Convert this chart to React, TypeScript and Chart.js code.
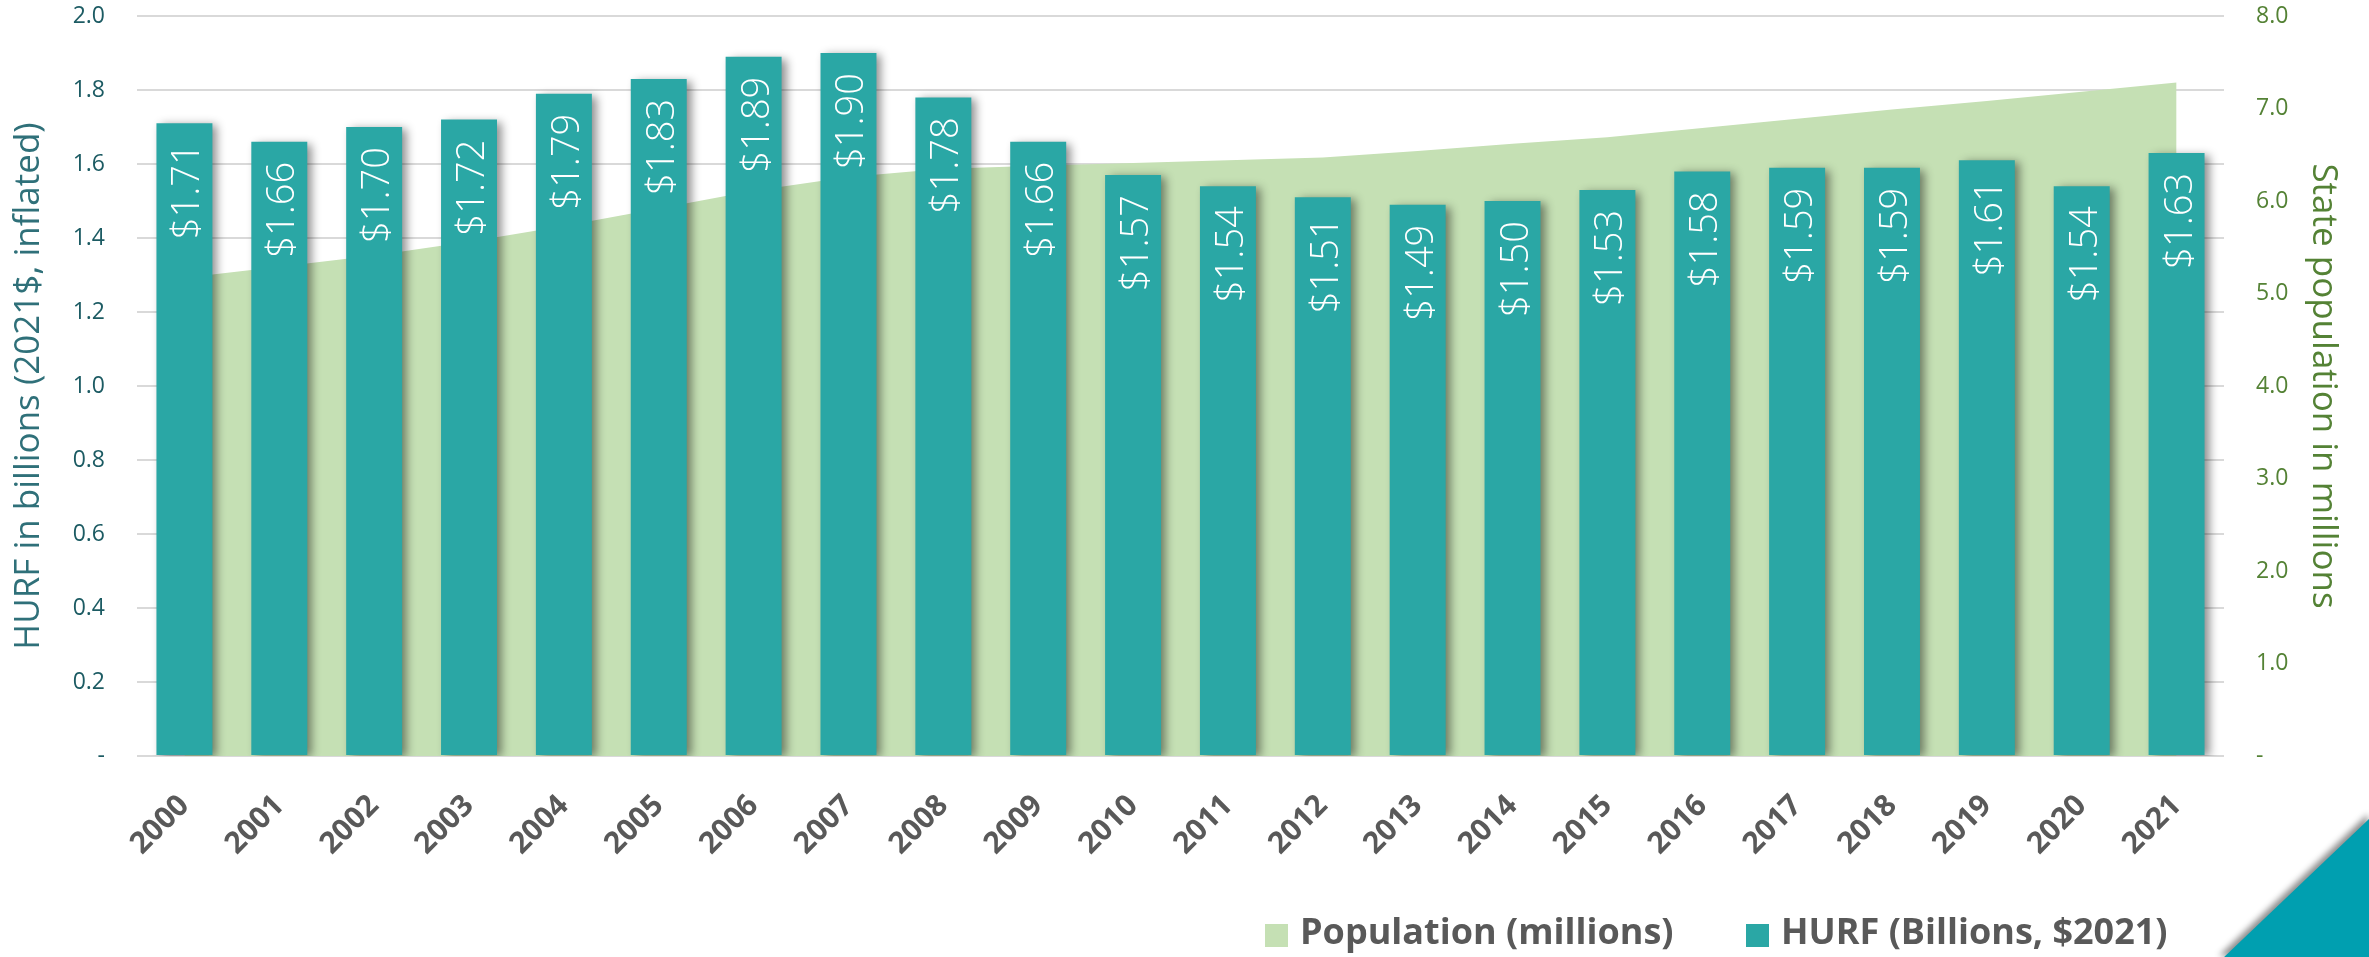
import { useEffect, useRef } from 'react';
import { Chart, registerables } from 'chart.js';

Chart.register(...registerables);

// ---- data ----
const years = ['2000', '2001', '2002', '2003', '2004', '2005', '2006', '2007', '2008', '2009', '2010',
  '2011', '2012', '2013', '2014', '2015', '2016', '2017', '2018', '2019', '2020', '2021'];
const hurfBillions = [1.71, 1.66, 1.70, 1.72, 1.79, 1.83, 1.89, 1.90, 1.78, 1.66, 1.57,
  1.54, 1.51, 1.49, 1.50, 1.53, 1.58, 1.59, 1.59, 1.61, 1.54, 1.63];
const populationMillions = [5.17, 5.29, 5.41, 5.56, 5.73, 5.92, 6.11, 6.26, 6.35, 6.38, 6.41,
  6.44, 6.47, 6.54, 6.62, 6.69, 6.79, 6.89, 6.99, 7.08, 7.18, 7.28];
const seriesLabels = ['Population (millions)', 'HURF (Billions, $2021)'];
const leftAxisTitle = 'HURF in billions (2021$, inflated)';
const rightAxisTitle = 'State population in millions';

// ---- styles ----
const W = 2369;
const H = 957;
const FONT = "'Open Sans', 'Noto Sans', sans-serif";
const BAR_COLOR = '#2AA7A5';
const AREA_COLOR = '#C5E0B4';
const LEFT_TICK = '#1C5B63';
const LEFT_TITLE = '#2F7079';
const RIGHT_GREEN = '#548235';
const GREY_TEXT = '#595959';

const barShadow = {
  id: 'barShadow',
  beforeDatasetDraw(chart: any, args: any) {
    if (args.index !== 1) return;
    const ctx = chart.ctx;
    ctx.save();
    ctx.shadowColor = 'rgba(0,0,0,0.45)';
    ctx.shadowBlur = 9;
    ctx.shadowOffsetX = 5;
    ctx.shadowOffsetY = 2;
  },
  afterDatasetDraw(chart: any, args: any) {
    if (args.index !== 1) return;
    chart.ctx.restore();
  },
};

const barLabels = {
  id: 'barLabels',
  afterDatasetsDraw(chart: any) {
    const meta = chart.getDatasetMeta(1);
    const data = chart.data.datasets[1].data as number[];
    const ctx = chart.ctx;
    ctx.save();
    ctx.fillStyle = '#FFFFFF';
    ctx.font = `300 38px ${FONT}`;
    ctx.textAlign = 'right';
    ctx.textBaseline = 'alphabetic';
    meta.data.forEach((el: any, i: number) => {
      ctx.save();
      ctx.translate(el.x, el.y + 20);
      ctx.rotate(-Math.PI / 2);
      ctx.fillText('$' + data[i].toFixed(2), 0, 15);
      ctx.restore();
    });
    ctx.restore();
  },
};

const legendAndCorner = {
  id: 'legendAndCorner',
  afterDraw(chart: any) {
    const ctx = chart.ctx;
    ctx.save();
    // legend
    const items = [
      { x: 1265, color: AREA_COLOR, text: chart.data.datasets[0].label },
      { x: 1746, color: BAR_COLOR, text: chart.data.datasets[1].label },
    ];
    ctx.font = `bold 36px ${FONT}`;
    ctx.textBaseline = 'middle';
    ctx.textAlign = 'left';
    items.forEach((it) => {
      ctx.fillStyle = it.color;
      ctx.fillRect(it.x, 924, 23, 23);
      ctx.fillStyle = GREY_TEXT;
      ctx.fillText(it.text, it.x + 35, 934);
    });
    // corner triangle
    ctx.shadowColor = 'rgba(0,0,0,0.45)';
    ctx.shadowBlur = 6;
    ctx.shadowOffsetX = -3;
    ctx.shadowOffsetY = -3;
    ctx.fillStyle = '#009FB0';
    ctx.beginPath();
    ctx.moveTo(2222, H + 2);
    ctx.lineTo(W + 2, 817);
    ctx.lineTo(W + 2, H + 2);
    ctx.closePath();
    ctx.fill();
    ctx.restore();
  },
};

const zeroPad = (scale: any) => {
  scale.paddingTop = 0;
  scale.paddingBottom = 0;
  scale.paddingLeft = 0;
  scale.paddingRight = 0;
};

export default function App() {
  const ref = useRef<HTMLCanvasElement>(null);
  useEffect(() => {
    const chart = new Chart(ref.current as HTMLCanvasElement, {
      type: 'bar',
      data: {
        labels: years,
        datasets: [
          {
            type: 'line',
            label: seriesLabels[0],
            data: populationMillions,
            yAxisID: 'y1',
            fill: 'origin',
            backgroundColor: AREA_COLOR,
            borderWidth: 0,
            pointRadius: 0,
            tension: 0,
            order: 2,
          } as any,
          {
            type: 'bar',
            label: seriesLabels[1],
            data: hurfBillions,
            yAxisID: 'y',
            backgroundColor: BAR_COLOR,
            borderWidth: 0,
            barPercentage: 0.59,
            categoryPercentage: 1,
            order: 1,
          },
        ],
      },
      options: {
        responsive: false,
        animation: false,
        devicePixelRatio: 1,
        layout: { padding: { top: 16, left: 0, right: 0, bottom: 0 } },
        plugins: {
          legend: { display: false },
          tooltip: { enabled: false },
        },
        scales: {
          x: {
            type: 'category',
            offset: true,
            grid: { display: false, drawTicks: false },
            border: { display: false },
            ticks: {
              autoSkip: false,
              minRotation: 45,
              maxRotation: 45,
              padding: 32,
              color: GREY_TEXT,
              font: { family: FONT, size: 30, weight: 'bold' },
            },
            afterFit(scale: any) {
              scale.height = 201;
              zeroPad(scale);
            },
          },
          y: {
            type: 'linear',
            position: 'left',
            min: 0,
            max: 2,
            ticks: {
              stepSize: 0.2,
              padding: 32,
              color: LEFT_TICK,
              font: { family: FONT, size: 23 },
              callback: (v: any) => (Number(v) === 0 ? '-' : Number(v).toFixed(1)),
            },
            grid: { color: '#D9D9D9', lineWidth: 2, drawTicks: false },
            border: { display: false },
            title: {
              display: true,
              text: leftAxisTitle,
              color: LEFT_TITLE,
              font: { family: FONT, size: 35, lineHeight: 1.2 },
              padding: { top: 8, bottom: 0 },
            },
            afterFit(scale: any) {
              scale.width = 137;
              zeroPad(scale);
            },
          },
          y1: {
            type: 'linear',
            position: 'right',
            min: 0,
            max: 8,
            ticks: {
              stepSize: 1,
              padding: 32,
              color: RIGHT_GREEN,
              font: { family: FONT, size: 23 },
              callback: (v: any) => (Number(v) === 0 ? '-' : Number(v).toFixed(1)),
            },
            grid: { display: false, drawTicks: false },
            border: { display: false },
            title: {
              display: true,
              text: rightAxisTitle,
              color: RIGHT_GREEN,
              font: { family: FONT, size: 35, lineHeight: 1.2 },
              padding: { top: 25, bottom: 0 },
            },
            afterFit(scale: any) {
              scale.width = 145;
              zeroPad(scale);
            },
          },
        },
      },
      plugins: [barShadow, barLabels, legendAndCorner],
    });
    return () => chart.destroy();
  }, []);
  return (
    <div style={{ position: 'absolute', left: 0, top: 0, width: W, height: H, background: '#fff' }}>
      <canvas ref={ref} width={W} height={H} style={{ width: W, height: H, display: 'block' }} />
    </div>
  );
}
